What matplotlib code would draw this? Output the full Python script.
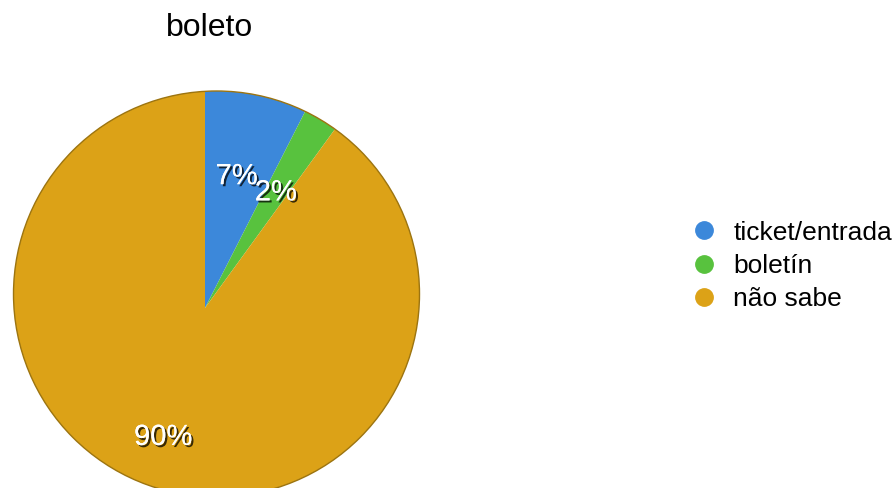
import matplotlib.pyplot as plt
import matplotlib.patheffects as pe
from matplotlib.patches import Circle
from matplotlib.lines import Line2D

plt.rcParams['font.family'] = ['Liberation Sans', 'DejaVu Sans']

# dados
labels = ['ticket/entrada', 'boletín', 'não sabe']
counts = [3, 1, 36]
colors = ['#3c88da', '#58c23e', '#dca217']

W, H = 894, 488
fig = plt.figure(figsize=(W / 100, H / 100), dpi=100)
# eixo em pixels (y para cima)
ax = fig.add_axes([0, 0, 1, 1])

# o vértice das fatias não fica no centro do disco (efeito de perspectiva)
apex = (205, H - 308)

wedges, texts, autotexts = ax.pie(
    counts, colors=colors, startangle=90, counterclock=False,
    center=apex, radius=240, frame=True,
    autopct=lambda p: f'{int(p)}%', pctdistance=0.565,
    wedgeprops=dict(linewidth=0),
    textprops=dict(color='white', fontsize=21))
ax.set_xlim(0, W)
ax.set_ylim(0, H)
ax.set_aspect('equal')
ax.axis('off')

# contorno do disco; as fatias são recortadas por ele
disk = Circle((216.5, H - 294), 203, facecolor='none', edgecolor='#9c7410',
              linewidth=1.0, zorder=3)
ax.add_patch(disk)
for w in wedges:
    w.set_clip_on(True)
    w.set_clip_path(disk)

for t in autotexts:
    t.set_zorder(5)
    t.set_path_effects([pe.withSimplePatchShadow(offset=(1.5, -1.5), shadow_rgbFace='black', alpha=0.75),
                        pe.Normal()])

# título
fig.text(210 / W, 1 - 28 / H, 'boleto', ha='center', va='center', fontsize=23)

# legenda
handles = [Line2D([0], [0], marker='o', linestyle='', markersize=12.5,
                  markerfacecolor=c, markeredgecolor=c) for c in colors]
fig.legend(handles, labels, loc='center left', bbox_to_anchor=(691 / W, 1 - 266 / H),
           frameon=False, fontsize=19, handletextpad=0.6, labelspacing=0.36,
           handlelength=1.0, borderaxespad=0, borderpad=0)

fig.savefig('out.png', dpi=100)
